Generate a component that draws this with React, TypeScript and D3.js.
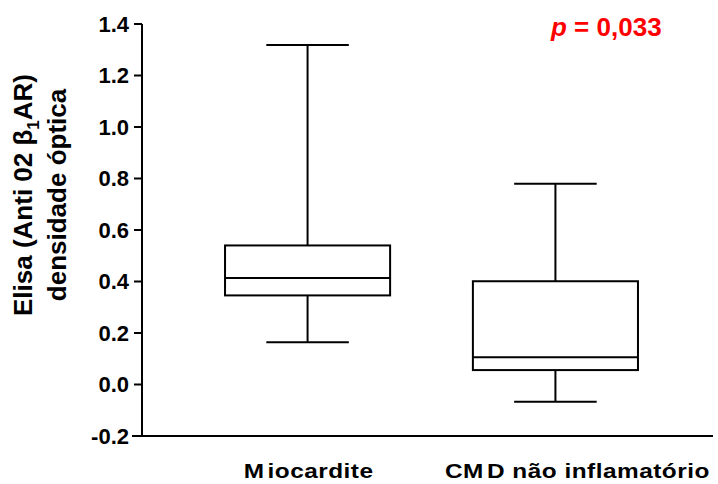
import * as d3 from 'd3';

const width = 718;
const height = 484;

// Box-plot summary values
const groups = ['Miocardite', 'CMD não inflamatório'];
const whiskerLow = [0.164, -0.067];
const q1 = [0.346, 0.056];
const median = [0.414, 0.106];
const q3 = [0.54, 0.401];
const whiskerHigh = [1.318, 0.78];
const yTicks = [-0.2, 0, 0.2, 0.4, 0.6, 0.8, 1.0, 1.2, 1.4];

const y = d3.scaleLinear().domain([-0.2, 1.4]).range([436, 24]);
const x = d3.scalePoint<string>().domain(groups).range([142, 721]).padding(0.668);
const step = x.step();
const boxW = step * 0.666;
const capW = boxW / 2;

const font = 'Liberation Sans, Arial, sans-serif';
const fmt = (t: number) => d3.format('.1f')(t).replace('−', '-');

// the original renders a small gap after each "M"
const splitM = (s: string) => {
  const k = s.indexOf('M');
  if (k < 0) return [s];
  return [s.slice(0, k + 1), s.slice(k + 1)];
};

const App = () => {
  return (
    <svg width={width} height={height} style={{ position: 'absolute', left: 0, top: 0 }}>
      <rect width={width} height={height} fill="#fff" />
      {/* axes */}
      <line x1={142} x2={142} y1={y(1.4)} y2={y(-0.2)} stroke="#000" strokeWidth={2} />
      <line x1={132} x2={713} y1={y(-0.2)} y2={y(-0.2)} stroke="#000" strokeWidth={2} />
      {yTicks.map(t => (
        <g key={t}>
          <line x1={134} x2={142} y1={y(t)} y2={y(t)} stroke="#000" strokeWidth={2} />
          <text x={129} y={y(t)} dy="0.36em" textAnchor="end" fontFamily={font} fontWeight="bold" fontSize={22}>
            {fmt(t)}
          </text>
        </g>
      ))}
      {/* boxes */}
      {groups.map((g, i) => {
        const cx = x(g) as number;
        return (
          <g key={g} stroke="#000" strokeWidth={2} fill="none">
            <line x1={cx} x2={cx} y1={y(whiskerHigh[i])} y2={y(q3[i])} />
            <line x1={cx} x2={cx} y1={y(q1[i])} y2={y(whiskerLow[i])} />
            <line x1={cx - capW / 2} x2={cx + capW / 2} y1={y(whiskerHigh[i])} y2={y(whiskerHigh[i])} />
            <line x1={cx - capW / 2} x2={cx + capW / 2} y1={y(whiskerLow[i])} y2={y(whiskerLow[i])} />
            <rect x={cx - boxW / 2} width={boxW} y={y(q3[i])} height={y(q1[i]) - y(q3[i])} />
            <line x1={cx - boxW / 2} x2={cx + boxW / 2} y1={y(median[i])} y2={y(median[i])} />
          </g>
        );
      })}
      {/* x labels, slightly stretched horizontally as in the original */}
      {groups.map((g, i) => {
        const parts = splitM(g);
        return (
          <text key={g} transform={`translate(${(x(g) as number) + (i === 1 ? 22 : 1)},478) scale(1.22,1)`}
            textAnchor="middle" fontFamily={font} fontWeight="bold" fontSize={20} letterSpacing={0.4}>
            {parts[0]}
            {parts[1] !== undefined && <tspan dx={2.5}>{parts[1]}</tspan>}
          </text>
        );
      })}
      {/* y label */}
      <g transform="translate(32,195) rotate(-90)">
        <text textAnchor="middle" fontFamily={font} fontWeight="bold" fontSize={26}>
          Elisa (Anti 02 β<tspan fontSize={17} dy={7}>1</tspan><tspan dy={-7}>AR)</tspan>
        </text>
        <text y={34} textAnchor="middle" fontFamily={font} fontWeight="bold" fontSize={26}>
          densidade óptica
        </text>
      </g>
      {/* p value */}
      <text x={551} y={36} fontFamily={font} fontWeight="bold" fontSize={26} fill="#ff0000">
        <tspan fontStyle="italic">p</tspan> = 0,033
      </text>
    </svg>
  );
};

export default App;
